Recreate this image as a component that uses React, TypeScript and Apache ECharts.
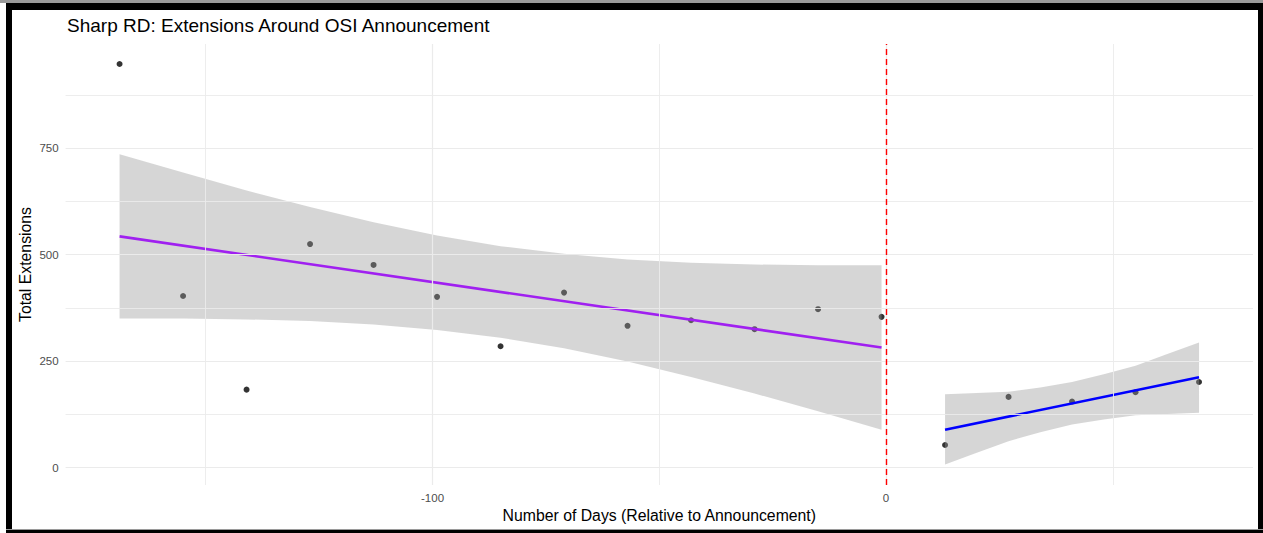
import React, { useEffect, useRef } from "react";
import * as echarts from "echarts";

// ---- data ----
const preX = [-169, -155, -141, -127, -113, -99, -85, -71, -57, -43, -29, -15, -1];
const preY = [948, 403, 183, 525, 476, 401, 285, 411, 333, 346, 325, 372, 354];
const postX = [13, 27, 41, 55, 69];
const postY = [53, 166, 155, 177, 201];

const preFitX = [-169, -1];
const preFitY = [543, 282];
const postFitX = [13, 69];
const postFitY = [89, 212];

const preBandX = [-169, -155, -141, -127, -113, -99, -85, -71, -57, -43, -29, -15, -1];
const preBandLower = [350, 350, 348, 344, 336, 323, 305, 280, 249, 213, 174, 132, 89];
const preBandUpper = [736, 693, 651, 612, 576, 545, 520, 502, 489, 481, 477, 475, 475];
const postBandX = [13, 20, 27, 34, 41, 48, 55, 62, 69];
const postBandLower = [7, 35, 62, 83, 101, 113, 123, 126, 129];
const postBandUpper = [172, 175, 178, 188, 201, 219, 239, 267, 294];

const xTickLabels = [-100, 0];
const yTickLabels = [0, 250, 500, 750];
const xGridMajor = [-100, 0];
const xGridMinor = [-150, -50, 50];
const yGridMajor = [0, 250, 500, 750];
const yGridMinor = [125, 375, 625, 875];
const cutoff = 0;

const FONT = "Liberation Sans, Arial, Helvetica, sans-serif";

function bandSeries(xs: number[], lo: number[], hi: number[]) {
  return {
    type: "custom",
    z: 3,
    silent: true,
    clip: true,
    data: [[xs[0], lo[0]]],
    renderItem: (params: any, api: any) => {
      if (params.dataIndex !== 0) return null;
      const pts: number[][] = [];
      for (let i = 0; i < xs.length; i++) pts.push(api.coord([xs[i], hi[i]]));
      for (let i = xs.length - 1; i >= 0; i--) pts.push(api.coord([xs[i], lo[i]]));
      return {
        type: "polygon",
        shape: { points: pts },
        style: { fill: "rgba(153,153,153,0.4)", stroke: "none" },
      };
    },
  };
}

export default function App() {
  const ref = useRef<HTMLDivElement>(null);
  useEffect(() => {
    if (!ref.current) return;
    const chart = echarts.init(ref.current, undefined, { renderer: "svg" });
    const gridLine = (v: number, axis: "xAxis" | "yAxis", major: boolean) => ({
      [axis]: v,
      lineStyle: { color: "#ebebeb", width: major ? 1.2 : 0.9, type: "solid" },
    });
    chart.setOption({
      animation: false,
      backgroundColor: "#ffffff",
      textStyle: { fontFamily: FONT },
      title: {
        text: "Sharp RD: Extensions Around OSI Announcement",
        left: 62,
        top: 11,
        textStyle: { fontSize: 19, fontWeight: "normal", color: "#000000", fontFamily: FONT },
      },
      grid: { left: 65.6, right: 10, top: 44, bottom: 48 },
      xAxis: {
        type: "value",
        min: -180.9,
        max: 80.9,
        axisLine: { show: false },
        axisTick: { show: false, customValues: xTickLabels },
        splitLine: { show: false },
        axisLabel: {
          customValues: xTickLabels,
          color: "#4d4d4d",
          fontSize: 11.5,
          margin: 7,
          fontFamily: FONT,
        },
        name: "Number of Days (Relative to Announcement)",
        nameLocation: "middle",
        nameGap: 22,
        nameMoveOverlap: false,
        nameTextStyle: { fontSize: 15.8, color: "#000000", fontFamily: FONT },
      },
      yAxis: {
        type: "value",
        min: -41,
        max: 995,
        axisLine: { show: false },
        axisTick: { show: false, customValues: yTickLabels },
        splitLine: { show: false },
        axisLabel: {
          customValues: yTickLabels,
          color: "#4d4d4d",
          fontSize: 11.5,
          margin: 7,
          fontFamily: FONT,
        },
        name: "Total Extensions",
        nameLocation: "middle",
        nameGap: 32,
        nameMoveOverlap: false,
        nameRotate: 90,
        nameTextStyle: { fontSize: 15.8, color: "#000000", fontFamily: FONT },
      },
      graphic: [
        { type: "rect", z: 100, shape: { x: 0, y: 0, width: 1263, height: 3 }, style: { fill: "#9a9a9a" } },
        { type: "rect", z: 100, shape: { x: 6, y: 3, width: 1257, height: 7 }, style: { fill: "#000000" } },
        { type: "rect", z: 100, shape: { x: 6, y: 3, width: 6, height: 530 }, style: { fill: "#000000" } },
        { type: "rect", z: 100, shape: { x: 1258, y: 3, width: 5, height: 530 }, style: { fill: "#000000" } },
        { type: "rect", z: 100, shape: { x: 6, y: 529, width: 1257, height: 1 }, style: { fill: "#9a9a9a" } },
        { type: "rect", z: 100, shape: { x: 6, y: 530, width: 1257, height: 3 }, style: { fill: "#000000" } },
      ],
      series: [
        {
          type: "line",
          z: 1,
          silent: true,
          data: [],
          markLine: {
            silent: true,
            symbol: ["none", "none"],
            label: { show: false },
            emphasis: { disabled: true },
            data: [
              ...xGridMinor.map((v) => gridLine(v, "xAxis", false)),
              ...xGridMajor.map((v) => gridLine(v, "xAxis", true)),
              ...yGridMinor.map((v) => gridLine(v, "yAxis", false)),
              ...yGridMajor.map((v) => gridLine(v, "yAxis", true)),
            ],
          },
        },
        {
          type: "scatter",
          z: 2,
          silent: true,
          symbolSize: 6,
          itemStyle: { color: "#000000" },
          data: preX.map((x, i) => [x, preY[i]]),
        },
        {
          type: "scatter",
          z: 2,
          silent: true,
          symbolSize: 6,
          itemStyle: { color: "#000000" },
          data: postX.map((x, i) => [x, postY[i]]),
        },
        bandSeries(preBandX, preBandLower, preBandUpper),
        bandSeries(postBandX, postBandLower, postBandUpper),
        {
          type: "line",
          z: 4,
          silent: true,
          symbol: "none",
          lineStyle: { color: "#A020F0", width: 2.6 },
          data: preFitX.map((x, i) => [x, preFitY[i]]),
        },
        {
          type: "line",
          z: 4,
          silent: true,
          symbol: "none",
          lineStyle: { color: "#0000FF", width: 2.6 },
          data: postFitX.map((x, i) => [x, postFitY[i]]),
        },
        {
          type: "line",
          z: 5,
          silent: true,
          data: [],
          markLine: {
            silent: true,
            symbol: ["none", "none"],
            label: { show: false },
            emphasis: { disabled: true },
            data: [{ xAxis: cutoff, lineStyle: { color: "#ff0000", width: 1.4, type: [6, 4] } }],
          },
        },
      ],
    });
    return () => chart.dispose();
  }, []);
  return (
    <div
      ref={ref}
      style={{ position: "absolute", left: 0, top: 0, width: 1263, height: 533 }}
    />
  );
}
